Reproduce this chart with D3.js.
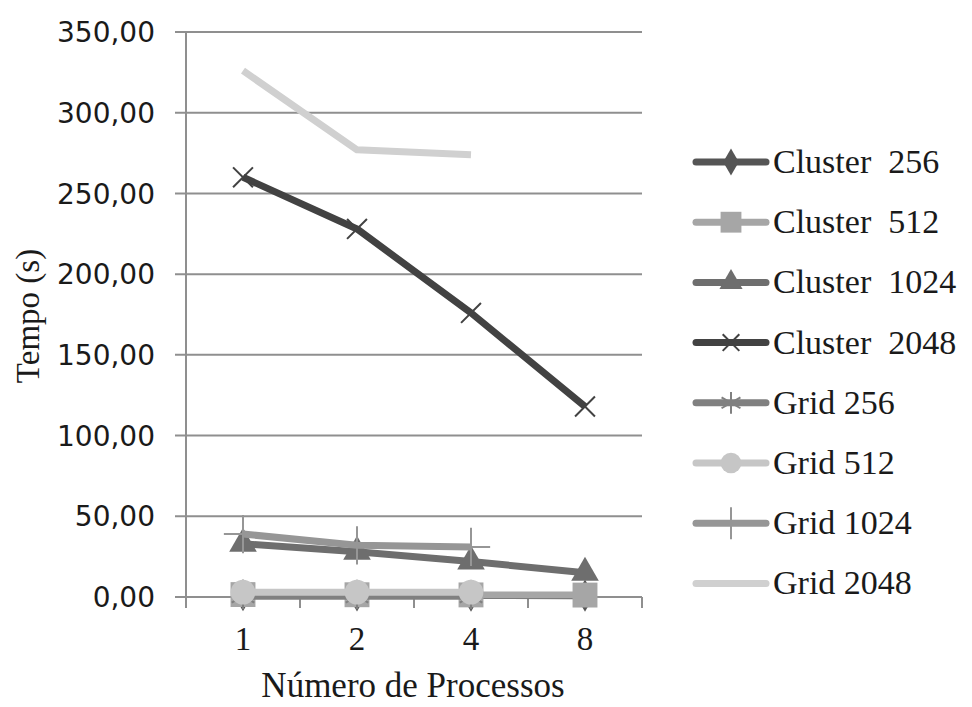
<!DOCTYPE html>
<html>
<head>
<meta charset="utf-8">
<script src="https://cdn.jsdelivr.net/npm/d3@7"></script>
<style>
  body { margin: 0; background: #fff; }
  svg { display: block; }
  text { white-space: pre; }
</style>
</head>
<body>
<div id="chart"></div>
<script>
var processos = ["1", "2", "4", "8"];
var yTicks = [0, 50, 100, 150, 200, 250, 300, 350];

var cluster256 = [1.2, 1.0, 0.9, 0.8];
var cluster512 = [1.5, 1.4, 1.3, 1.2];
var cluster1024 = [33, 28, 22, 15];
var cluster2048 = [260, 228, 176, 118];
var grid256 = [0.5, 0.5, 0.5];
var grid512 = [3, 3, 3];
var grid1024 = [39, 32, 31];
var grid2048 = [326, 277, 274];

var seriesNames = ["Cluster  256", "Cluster  512", "Cluster  1024", "Cluster  2048",
    "Grid 256", "Grid 512", "Grid 1024", "Grid 2048"];
var seriesValues = [cluster256, cluster512, cluster1024, cluster2048,
    grid256, grid512, grid1024, grid2048];
var seriesColors = ["#555555", "#a6a6a6", "#6e6e6e", "#424242",
    "#808080", "#c6c6c6", "#969696", "#d0d0d0"];
var seriesMarkers = [
    { type: d3.symbolDiamond, size: 300, fill: true },
    { type: d3.symbolSquare, size: 620, fill: true },
    { type: d3.symbolTriangle, size: 330, fill: true },
    { type: d3.symbolX, size: 260, fill: false },
    { type: d3.symbolAsterisk, size: 480, fill: false },
    { type: d3.symbolCircle, size: 480, fill: true },
    { type: d3.symbolPlus, size: 480, fill: false },
    null
];

var width = 972, height = 707;

var svg = d3.select("#chart").append("svg")
    .attr("width", width)
    .attr("height", height);

var x = d3.scaleBand().domain(processos).range([186, 642]);
var y = d3.scaleLinear().domain([0, 350]).range([597, 32]);

// gridlines
svg.append("g")
    .selectAll("line")
    .data(yTicks)
    .enter().append("line")
    .attr("x1", 175)
    .attr("x2", 642)
    .attr("y1", d => y(d))
    .attr("y2", d => y(d))
    .attr("stroke", "#8f8f8f")
    .attr("stroke-width", 2);

// y axis line
svg.append("line")
    .attr("x1", 186).attr("x2", 186)
    .attr("y1", y(350)).attr("y2", y(0))
    .attr("stroke", "#8f8f8f")
    .attr("stroke-width", 2);

// x ticks between categories
svg.append("g")
    .selectAll("line")
    .data(processos.concat(["end"]))
    .enter().append("line")
    .attr("x1", (d, i) => 186 + i * x.bandwidth())
    .attr("x2", (d, i) => 186 + i * x.bandwidth())
    .attr("y1", y(0))
    .attr("y2", y(0) + 11)
    .attr("stroke", "#8f8f8f")
    .attr("stroke-width", 2);

// y tick labels
svg.append("g")
    .selectAll("text")
    .data(yTicks)
    .enter().append("text")
    .attr("x", 155)
    .attr("y", d => y(d))
    .attr("dy", "0.36em")
    .attr("text-anchor", "end")
    .attr("font-family", "DejaVu Sans")
    .attr("font-size", 28)
    .attr("fill", "#1a1a1a")
    .text(d => d3.format(".2f")(d).replace(".", ","));

// x tick labels
svg.append("g")
    .selectAll("text")
    .data(processos)
    .enter().append("text")
    .attr("x", d => x(d) + x.bandwidth() / 2)
    .attr("y", 650)
    .attr("text-anchor", "middle")
    .attr("font-family", "Liberation Serif")
    .attr("font-size", 33)
    .attr("fill", "#1a1a1a")
    .text(d => d);

svg.append("text")
    .attr("x", 413)
    .attr("y", 697)
    .attr("text-anchor", "middle")
    .attr("font-family", "Liberation Serif")
    .attr("font-size", 35)
    .attr("fill", "#1a1a1a")
    .text("Número de Processos");

svg.append("text")
    .attr("transform", "translate(39,316) rotate(-90)")
    .attr("text-anchor", "middle")
    .attr("font-family", "Liberation Serif")
    .attr("font-size", 33)
    .attr("fill", "#1a1a1a")
    .text("Tempo (s)");

var line = d3.line()
    .x((d, i) => x(processos[i]) + x.bandwidth() / 2)
    .y(d => y(d));

function drawMarker(g, m, color, px, py, scale) {
    var p = g.append("path")
        .attr("d", d3.symbol().type(m.type).size(m.size * scale)())
        .attr("transform", "translate(" + px + "," + py + ")");
    if (m.fill) {
        p.attr("fill", color);
    } else {
        p.attr("fill", "none").attr("stroke", color).attr("stroke-width", 2);
    }
}

// series
seriesValues.forEach(function (vals, s) {
    var g = svg.append("g");
    g.append("path")
        .datum(vals)
        .attr("d", line)
        .attr("fill", "none")
        .attr("stroke", seriesColors[s])
        .attr("stroke-width", 7)
        .attr("stroke-linejoin", "round");
    var m = seriesMarkers[s];
    if (m) {
        vals.forEach(function (v, i) {
            drawMarker(g, m, seriesColors[s], x(processos[i]) + x.bandwidth() / 2, y(v), 1);
        });
    }
});

// legend
var legend = svg.append("g");
seriesNames.forEach(function (name, s) {
    var ly = 162 + s * 60.2;
    legend.append("line")
        .attr("x1", 696).attr("x2", 766)
        .attr("y1", ly).attr("y2", ly)
        .attr("stroke", seriesColors[s])
        .attr("stroke-width", 7)
        .attr("stroke-linecap", "round");
    if (seriesMarkers[s]) {
        drawMarker(legend, seriesMarkers[s], seriesColors[s], 731, ly, 0.7);
    }
    legend.append("text")
        .attr("x", 773)
        .attr("y", ly + 11)
        .attr("font-family", "Liberation Serif")
        .attr("font-size", 34)
        .attr("fill", "#1a1a1a")
        .text(name);
});
</script>
</body>
</html>
